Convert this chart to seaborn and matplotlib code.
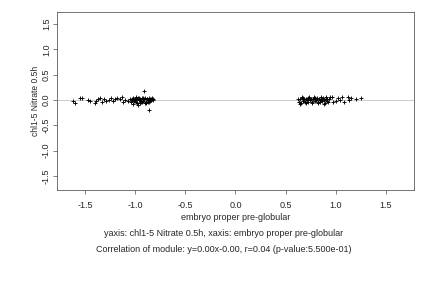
import matplotlib
matplotlib.use("Agg")
import matplotlib.pyplot as plt
import seaborn as sns
import pandas as pd

# left cluster (sparse tail + dense block)
left_x = [-1.62, -1.60, -1.55, -1.53, -1.47, -1.45, -1.40, -1.39, -1.37, -1.35,
          -1.33, -1.31, -1.29, -1.26, -1.24, -1.22, -1.20, -1.18, -1.15, -1.13,
          -1.12, -1.10, -1.07, -1.05, -1.04, -1.03, -1.02, -1.01, -1.00, -0.99,
          -0.98, -0.97, -0.96, -0.95, -0.94, -0.93, -0.92, -0.91, -0.90, -0.89,
          -0.88, -0.87, -0.86, -0.85, -0.84, -0.83, -0.82, -1.03, -1.00, -0.98,
          -0.96, -0.94, -0.92, -0.90, -0.88, -0.86, -0.84, -0.82, -0.97, -0.93,
          -0.89, -0.85, -0.91, -0.86, -1.02, -0.99, -0.95, -0.87, -0.83]
left_y = [-0.02, -0.06, 0.03, 0.03, -0.01, -0.02, -0.06, -0.02, 0.02, 0.03,
          -0.03, 0.02, -0.02, 0.00, 0.03, -0.02, 0.01, 0.03, 0.02, 0.05,
          -0.03, 0.00, -0.02, 0.02, -0.04, 0.01, 0.03, -0.02, 0.02, -0.03,
          0.01, 0.04, -0.01, 0.02, -0.03, 0.03, -0.02, 0.01, 0.03, -0.04,
          0.02, -0.01, 0.03, -0.02, 0.01, 0.02, -0.01, -0.01, 0.00, -0.05,
          0.03, -0.02, 0.04, -0.06, 0.02, -0.03, 0.00, 0.02, -0.10, -0.04,
          -0.05, 0.01, 0.17, -0.20, -0.08, 0.05, -0.06, -0.04, 0.03]

# right cluster (dense block + sparse tail)
right_x = [0.62, 0.63, 0.64, 0.65, 0.66, 0.67, 0.68, 0.69, 0.70, 0.71,
           0.72, 0.73, 0.74, 0.75, 0.76, 0.77, 0.78, 0.79, 0.80, 0.81,
           0.82, 0.83, 0.84, 0.85, 0.86, 0.87, 0.88, 0.89, 0.90, 0.91,
           0.92, 0.93, 0.94, 0.64, 0.67, 0.70, 0.73, 0.76, 0.79, 0.82,
           0.85, 0.88, 0.91, 0.66, 0.72, 0.78, 0.84, 0.90, 0.96, 0.97,
           1.00, 1.02, 1.04, 1.06, 1.08, 1.12, 1.13, 1.15, 1.20, 1.25]
right_y = [0.01, -0.03, 0.02, -0.05, 0.03, -0.02, 0.01, -0.04, 0.02, 0.00,
           -0.03, 0.03, -0.01, 0.02, -0.04, 0.01, 0.03, -0.02, 0.00, 0.04,
           -0.03, 0.02, -0.01, 0.05, -0.02, 0.03, 0.00, -0.05, 0.06, 0.01,
           -0.03, 0.02, 0.05, -0.08, 0.04, -0.06, 0.05, -0.05, 0.04, -0.06,
           0.02, -0.07, -0.02, 0.05, 0.04, 0.05, -0.04, 0.02, 0.05, -0.04,
           -0.02, 0.03, 0.00, 0.05, -0.03, 0.06, -0.01, 0.03, 0.01, 0.03]

x_ticks = [-1.5, -1.0, -0.5, 0.0, 0.5, 1.0, 1.5]
y_ticks = [-1.5, -1.0, -0.5, 0.0, 0.5, 1.0, 1.5]

x_label = "embryo proper pre-globular"
y_label = "chl1-5 Nitrate 0.5h"
caption1 = "yaxis: chl1-5 Nitrate 0.5h, xaxis: embryo proper pre-globular"
caption2 = "Correlation of module: y=0.00x-0.00, r=0.04 (p-value:5.500e-01)"

df = pd.DataFrame({"x": left_x + right_x, "y": left_y + right_y})

sns.set_style("white")
plt.rcParams["font.family"] = ["Liberation Sans", "DejaVu Sans"]

FS = 9

fig = plt.figure(figsize=(6, 4), dpi=72)
ax = fig.add_axes([57/432, 1 - 190/288, (414-57)/432, (190-12)/288])

ax.axhline(0, color="#c0c0c0", lw=0.8, zorder=1)
sns.scatterplot(data=df, x="x", y="y", marker="+", color="black", s=24,
                linewidth=0.9, ax=ax, zorder=2)

ax.set_xlim(-1.78, 1.78)
ax.set_ylim(-1.78, 1.74)
ax.set_xticks(x_ticks)
ax.set_yticks(y_ticks)
ax.set_xticklabels([f"{v:.1f}" for v in x_ticks], fontsize=FS)
ax.set_yticklabels([f"{v:.1f}" for v in y_ticks], fontsize=FS, rotation=90, va="center")
ax.tick_params(axis="both", direction="out", length=4, width=0.6, color="#333333",
               bottom=True, left=True)
ax.tick_params(axis="x", pad=7)
ax.tick_params(axis="y", pad=2)
for s in ax.spines.values():
    s.set_color("#555555")
    s.set_linewidth(0.8)

ax.set_xlabel(x_label, fontsize=FS, labelpad=3)
ax.set_ylabel(y_label, fontsize=8.5, labelpad=2)

fig.text(224/432, 1 - 233/288, caption1, ha="center", va="center", fontsize=FS)
fig.text(224/432, 1 - 250/288, caption2, ha="center", va="center", fontsize=FS)

fig.savefig("out.png", dpi=72)
